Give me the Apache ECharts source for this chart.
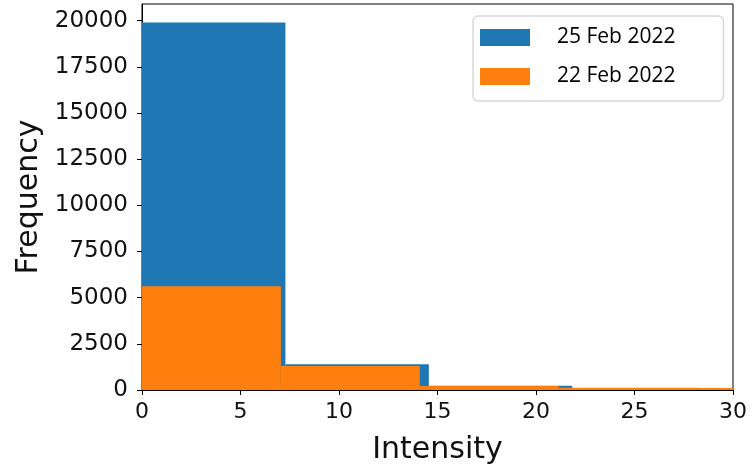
<!DOCTYPE html>
<html>
<head>
<meta charset="utf-8">
<script src="https://cdn.jsdelivr.net/npm/echarts@6/dist/echarts.min.js"></script>
<style>html,body{margin:0;padding:0;background:#fff}#c{width:754px;height:473px}</style>
</head>
<body>
<div id="c"></div>
<script>
// Histogram bin edges and counts
const blueName = '25 Feb 2022';
const blueEdges = [0, 7.28, 14.56, 21.84, 29.12, 36.4];
const blueCounts = [19900, 1390, 235, 100, 60];
const orangeName = '22 Feb 2022';
const orangeEdges = [0, 7.05, 14.1, 21.15, 28.2, 35.25];
const orangeCounts = [5620, 1300, 215, 125, 105];
const xTicks = [0, 5, 10, 15, 20, 25, 30];
const yTicks = [0, 2500, 5000, 7500, 10000, 12500, 15000, 17500, 20000];

function bins(edges, counts) {
  return counts.map((c, i) => [edges[i], edges[i + 1], c]);
}
function renderBin(params, api) {
  const p0 = api.coord([api.value(0), api.value(2)]);
  const p1 = api.coord([api.value(1), 0]);
  const cs = params.coordSys;
  const shape = echarts.graphic.clipRectByRect(
    {x: p0[0], y: p0[1], width: p1[0] - p0[0], height: p1[1] - p0[1]},
    {x: cs.x, y: cs.y, width: cs.width, height: cs.height});
  return shape && {type: 'rect', shape: shape, style: {fill: api.visual('color')}};
}

const chart = echarts.init(document.getElementById('c'), null, {renderer: 'canvas'});
chart.setOption({
  animation: false,
  color: ['#1f77b4', '#ff7f0e'],
  grid: {left: 142, right: 21, top: 4, bottom: 83, show: true, borderColor: '#000', borderWidth: 1, backgroundColor: 'transparent'},
  legend: {
    orient: 'vertical', left: 473, top: 16, padding: [11, 48, 14, 7],
    itemWidth: 50, itemHeight: 17, itemGap: 18,
    borderColor: '#d9d9d9', borderWidth: 1.5, borderRadius: 5, backgroundColor: '#fff',
    icon: 'rect',
    textStyle: {fontFamily: 'Open Sans', fontSize: 21, color: '#000', padding: [0, 0, 0, 22], lineHeight: 20},
    data: [blueName, orangeName]
  },
  xAxis: {
    type: 'value', min: 0, max: 30, interval: 5,
    name: 'Intensity', nameLocation: 'middle', nameGap: 45,
    nameTextStyle: {fontFamily: 'DejaVu Sans', fontSize: 30, color: '#111'},
    axisLine: {show: true, onZero: false, lineStyle: {color: '#000', width: 1}},
    axisTick: {show: true, length: 5, lineStyle: {color: '#000'}},
    axisLabel: {fontFamily: 'DejaVu Sans', fontSize: 22, color: '#111', margin: 11,
      formatter: v => xTicks.includes(v) ? String(v) : ''},
    splitLine: {show: false}
  },
  yAxis: {
    type: 'value', min: 0, max: 20900, interval: 2500,
    name: 'Frequency', nameLocation: 'middle', nameGap: 98,
    nameTextStyle: {fontFamily: 'DejaVu Sans', fontSize: 30, color: '#111'},
    axisLine: {show: true, lineStyle: {color: '#000', width: 1}},
    axisTick: {show: true, length: 5, lineStyle: {color: '#000'}},
    axisLabel: {fontFamily: 'DejaVu Sans', fontSize: 23, color: '#111', margin: 14, showMaxLabel: false,
      formatter: v => yTicks.includes(v) ? String(v) : ''},
    splitLine: {show: false}
  },
  series: [
    {name: blueName, type: 'custom', renderItem: renderBin, encode: {x: [0, 1], y: 2}, data: bins(blueEdges, blueCounts)},
    {name: orangeName, type: 'custom', renderItem: renderBin, encode: {x: [0, 1], y: 2}, data: bins(orangeEdges, orangeCounts)}
  ]
});
</script>
</body>
</html>
